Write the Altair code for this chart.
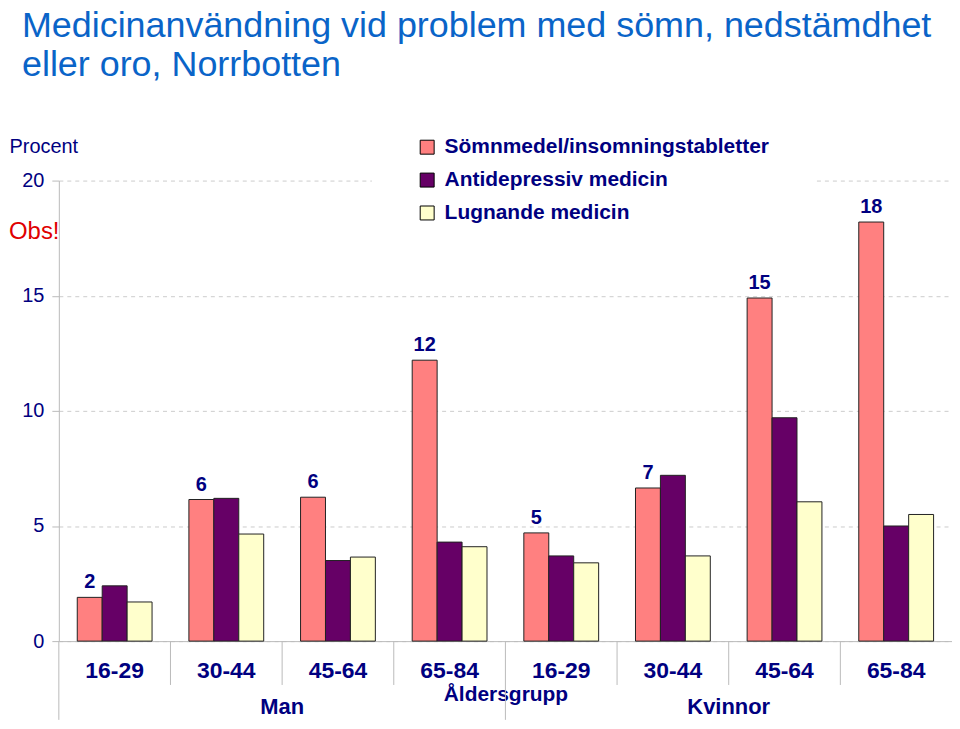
import altair as alt
import pandas as pd

# ---------------- data ----------------
groups = ["Man", "Man", "Man", "Man", "Kvinnor", "Kvinnor", "Kvinnor", "Kvinnor"]
ages = ["16-29", "30-44", "45-64", "65-84", "16-29", "30-44", "45-64", "65-84"]
series = ["Sömnmedel/insomningstabletter", "Antidepressiv medicin", "Lugnande medicin"]
somn = [1.9, 6.15, 6.25, 12.2, 4.7, 6.65, 14.9, 18.2]
anti = [2.4, 6.2, 3.5, 4.3, 3.7, 7.2, 9.7, 5.0]
lugn = [1.7, 4.65, 3.65, 4.1, 3.4, 3.7, 6.05, 5.5]
colors = ["#FF8080", "#660066", "#FFFFCC"]
y_ticks = [0, 5, 10, 15, 20]
sex_labels = ["Man", "Kvinnor"]
note = ["Obs!"]

FONT = "Liberation Sans"
NAVY = "#000080"
GREY = "#BBBBBB"

cats = [f"{g}|{a}" for g, a in zip(groups, ages)]
rows = []
for s, vals in zip(series, [somn, anti, lugn]):
    for c, v in zip(cats, vals):
        rows.append({"cat": c, "series": s, "value": v})
df = pd.DataFrame(rows)

W, H = 896, 462
PI = 0.33
STEP = W / len(cats)
gap_off = -STEP * PI / 2   # from band start back to the step boundary

x_axis = alt.Axis(
    labelExpr="split(datum.value, '|')[1]", labelAngle=0, labelFont=FONT,
    labelFontSize=23, labelFontWeight="bold", labelColor=NAVY, labelPadding=18,
    ticks=False, domainColor=GREY, grid=False,
    title="Åldersgrupp", titleFont=FONT, titleFontSize=21, titleFontWeight="bold",
    titleColor=NAVY, titleX=W / 2, titleY=60, titleAlign="center",
    titleBaseline="alphabetic",
)
x_scale = alt.Scale(domain=cats, paddingInner=PI, paddingOuter=PI / 2)

y_axis = alt.Axis(
    values=y_ticks, grid=True, gridDash=[4, 4], gridColor="#CCCCCC",
    domainColor=GREY, tickColor=GREY, tickSize=7, labelFont=FONT,
    labelFontSize=20, labelColor=NAVY, labelPadding=8,
    title="Procent", titleAngle=0, titleX=-50, titleY=-28, titleAlign="left",
    titleBaseline="alphabetic", titleFont=FONT, titleFontSize=20,
    titleFontWeight="normal", titleColor=NAVY,
)
y_enc = alt.Y("value:Q", scale=alt.Scale(domain=[0, 20], nice=False), axis=y_axis)

def xenc(**kw):
    return alt.X("cat:N", scale=x_scale, axis=x_axis, sort=cats, **kw)

xoff = alt.XOffset("series:N", sort=series,
                   scale=alt.Scale(domain=series, paddingInner=0, paddingOuter=0))

bars = alt.Chart(df).mark_bar(stroke="#222222", strokeWidth=1).encode(
    x=xenc(),
    xOffset=xoff,
    y=y_enc,
    color=alt.Color(
        "series:N", sort=series,
        scale=alt.Scale(domain=series, range=colors),
        legend=alt.Legend(
            orient="none", legendX=314, legendY=-89, title=None,
            symbolType="square", symbolSize=196, symbolStrokeColor="#000000",
            symbolStrokeWidth=1, symbolOpacity=1, labelFont=FONT,
            labelFontSize=21, labelFontWeight="bold", labelColor=NAVY,
            labelLimit=0, labelOffset=7, rowPadding=11, padding=45,
            fillColor="white",
        ),
    ),
)

labels = alt.Chart(df).transform_filter(
    alt.datum.series == series[0]
).mark_text(font=FONT, fontSize=20, fontWeight="bold", color=NAVY,
            baseline="alphabetic", dy=-9).encode(
    x=xenc(),
    xOffset=xoff,
    y=y_enc,
    text=alt.Text("value:Q", format=".0f"),
)

rule_df = pd.DataFrame({"cat": cats, "long": [c.split("|")[1] == "16-29" for c in cats]})
short_rules = alt.Chart(rule_df).transform_filter(~alt.datum.long).mark_rule(
    color=GREY, strokeWidth=1).encode(
    x=xenc(bandPosition=0), xOffset=alt.value(gap_off),
    y=alt.value(H), y2=alt.value(H + 44))
long_rules = alt.Chart(rule_df).transform_filter(alt.datum.long).mark_rule(
    color=GREY, strokeWidth=1).encode(
    x=xenc(bandPosition=0), xOffset=alt.value(gap_off),
    y=alt.value(H), y2=alt.value(H + 79))

sex_df = pd.DataFrame({"cat": [f"{s}|45-64" for s in sex_labels], "label": sex_labels})
sex_text = alt.Chart(sex_df).mark_text(
    font=FONT, fontSize=22, fontWeight="bold", color=NAVY, baseline="alphabetic"
).encode(x=xenc(bandPosition=0), xOffset=alt.value(gap_off),
         y=alt.value(H + 73), text="label:N")

obs = alt.Chart(pd.DataFrame({"t": note})).mark_text(
    font=FONT, fontSize=24, color="#E00000", align="left", baseline="alphabetic"
).encode(x=alt.value(-50), y=alt.value(59), text="t:N")

chart = alt.layer(short_rules, long_rules, bars, labels, sex_text, obs).properties(
    width=W, height=H,
    autosize=alt.AutoSizeParams(type="none"),
    padding={"left": 51, "top": 172, "right": 0, "bottom": 79},
    title=alt.TitleParams(
        text=["Medicinanvändning vid problem med sömn, nedstämdhet",
              "eller oro, Norrbotten"],
        anchor="start", frame="group", dx=-37, offset=8, fontSize=36,
        font=FONT, fontWeight="normal", color="#0A64C8", lineHeight=39,
    ),
).configure_view(stroke=None)

chart.save("out.html", embed_options={"renderer": "svg", "actions": False})
